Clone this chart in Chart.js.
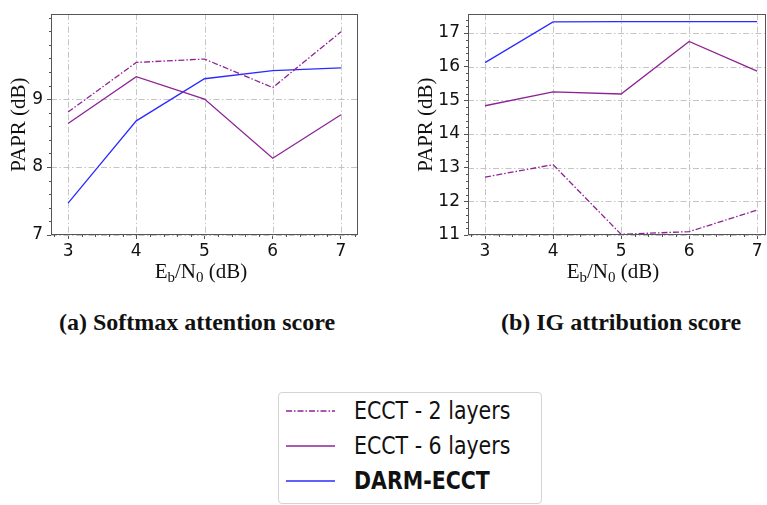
<!DOCTYPE html>
<html>
<head>
<meta charset="utf-8">
<script src="https://cdn.jsdelivr.net/npm/chart.js@4/dist/chart.umd.min.js"></script>
<style>
  html, body { margin: 0; padding: 0; background: #fff; }
  body { width: 767px; height: 505px; overflow: hidden; position: relative; }
  .panel { position: absolute; top: 0; }
  .xt {
    position: absolute; top: 261px; transform: translateX(-50%);
    font-family: "Liberation Serif", serif; font-size: 21px; line-height: 21px;
    color: #111; white-space: nowrap;
  }
  .xt sub { font-size: 15px; vertical-align: -4px; line-height: 0; }
  .cap {
    position: absolute; top: 310px; transform: translateX(-50%);
    font-family: "Liberation Serif", serif; font-weight: bold; font-size: 24px;
    line-height: 24px; color: #111; white-space: nowrap;
  }
  #legend {
    position: absolute; left: 278px; top: 392px; width: 264px; height: 112px;
    border: 1px solid #d4d4d4; border-radius: 4px; box-sizing: border-box;
    font-family: "DejaVu Sans", sans-serif; font-size: 24px; color: #111;
  }
  .row { position: absolute; left: 0; height: 24px; line-height: 24px; white-space: nowrap; }
  .row svg { position: absolute; left: 7px; top: 0; }
  .row span { position: absolute; left: 75px; top: 0; transform: scaleX(0.855); transform-origin: 0 50%; }
</style>
</head>
<body>
<div class="panel" style="left:0"><canvas id="chartA" width="370" height="260"></canvas></div>
<div class="panel" style="left:380px"><canvas id="chartB" width="387" height="260"></canvas></div>

<div class="xt" style="left:201px">E<sub>b</sub>/N<sub>0</sub> (dB)</div>
<div class="xt" style="left:613px">E<sub>b</sub>/N<sub>0</sub> (dB)</div>

<div class="cap" style="left:197px">(a) Softmax attention score</div>
<div class="cap" style="left:621px">(b) IG attribution score</div>

<div id="legend"></div>

<script>
// Eb/N0 points (dB)
const ebn0 = [3, 4, 5, 6, 7];
const xTicks = [3, 4, 5, 6, 7];

// (a) PAPR with softmax attention score
const softmaxEcct2 = [8.81, 9.54, 9.59, 9.17, 9.99];
const softmaxEcct6 = [8.64, 9.33, 9.00, 8.13, 8.77];
const softmaxDarm  = [7.47, 8.68, 9.30, 9.42, 9.46];
const softmaxYTicks = [7, 8, 9];

// (b) PAPR with IG attribution score
const igEcct2 = [12.72, 13.09, 11.02, 11.10, 11.74];
const igEcct6 = [14.84, 15.25, 15.19, 16.75, 15.87];
const igDarm  = [16.12, 17.33, 17.34, 17.34, 17.34];
const igYTicks = [11, 12, 13, 14, 15, 16, 17];

const seriesNames = ['ECCT - 2 layers', 'ECCT - 6 layers', 'DARM-ECCT'];

const PURPLE = '#8e2394';
const BLUE = '#2b2bff';
const AXIS = '#555';
const GRID = '#c4c4c4';
const GRID_DASH = [6, 2.5, 1.5, 2.5];
const ECCT2_DASH = [6, 2, 1.5, 2];
const TICK_FONT = { family: 'DejaVu Sans', size: 17 };

function pts(ys) { return ebn0.map((x, i) => ({ x: x, y: ys[i] })); }

// dash-dot grid, full frame and minor ticks (0.2 steps)
const framePlugin = {
  id: 'frame',
  beforeDatasetsDraw(chart) {
    const { ctx, chartArea: a, scales: { x, y } } = chart;
    ctx.save();
    ctx.strokeStyle = GRID; ctx.lineWidth = 1; ctx.setLineDash(GRID_DASH);
    ctx.beginPath();
    x.ticks.forEach(t => { const p = Math.round(x.getPixelForValue(t.value)) + 0.5; ctx.moveTo(p, a.top); ctx.lineTo(p, a.bottom); });
    y.ticks.forEach(t => { const p = Math.round(y.getPixelForValue(t.value)) + 0.5; ctx.moveTo(a.left, p); ctx.lineTo(a.right, p); });
    ctx.stroke();
    ctx.restore();
  },
  afterDraw(chart) {
    const { ctx, chartArea: a, scales: { x, y } } = chart;
    ctx.save();
    ctx.strokeStyle = AXIS; ctx.lineWidth = 1;
    const L = Math.round(a.left) + 0.5, T = Math.round(a.top) + 0.5;
    const R = Math.round(a.right) - 0.5, B = Math.round(a.bottom) - 0.5;
    ctx.strokeRect(L, T, R - L, B - T);
    ctx.beginPath();
    const xMaj = x.ticks.map(t => t.value), yMaj = y.ticks.map(t => t.value);
    const isMaj = (arr, v) => arr.some(m => Math.abs(m - v) < 1e-6);
    for (let k = Math.ceil(x.min / 0.2 - 1e-9); k * 0.2 <= x.max + 1e-9; k++) {
      const v = k * 0.2; if (isMaj(xMaj, v)) continue;
      const p = Math.round(x.getPixelForValue(v)) + 0.5;
      ctx.moveTo(p, B); ctx.lineTo(p, B + 2.5);
    }
    for (let k = Math.ceil(y.min / 0.2 - 1e-9); k * 0.2 <= y.max + 1e-9; k++) {
      const v = k * 0.2; if (isMaj(yMaj, v)) continue;
      const p = Math.round(y.getPixelForValue(v)) + 0.5;
      ctx.moveTo(L, p); ctx.lineTo(L - 2.5, p);
    }
    ctx.stroke();
    ctx.restore();
  }
};

function makeChart(id, e2, e6, darm, yTicks, yMin, yMax, xMax, padLeft, yWidth, padRight) {
  return new Chart(document.getElementById(id), {
    type: 'line',
    data: {
      datasets: [
        { label: seriesNames[0], data: pts(e2), borderColor: PURPLE, borderWidth: 1.3, borderDash: ECCT2_DASH },
        { label: seriesNames[1], data: pts(e6), borderColor: PURPLE, borderWidth: 1.3 },
        { label: seriesNames[2], data: pts(darm), borderColor: BLUE, borderWidth: 1.3 }
      ]
    },
    options: {
      responsive: false,
      animation: false,
      devicePixelRatio: 1,
      layout: { padding: { left: padLeft, top: 6, right: padRight, bottom: 0 } },
      elements: { point: { radius: 0 }, line: { tension: 0, fill: false } },
      plugins: { legend: { display: false }, tooltip: { enabled: false } },
      scales: {
        x: {
          type: 'linear', min: 2.75, max: xMax,
          afterBuildTicks: s => { s.ticks = xTicks.map(v => ({ value: v })); },
          afterFit: s => { s.height = 25; },
          ticks: { font: TICK_FONT, color: '#111', padding: 2, maxRotation: 0 },
          grid: { drawOnChartArea: false, tickLength: 4, tickColor: AXIS },
          border: { display: false }
        },
        y: {
          type: 'linear', min: yMin, max: yMax,
          afterBuildTicks: s => { s.ticks = yTicks.map(v => ({ value: v })); },
          afterFit: s => { s.width = yWidth; },
          ticks: { font: TICK_FONT, color: '#111', padding: 4 },
          grid: { drawOnChartArea: false, tickLength: 4, tickColor: AXIS },
          border: { display: false },
          title: {
            display: true, text: 'PAPR (dB)', color: '#111',
            font: { family: 'Liberation Serif', size: 21 }, padding: { top: 4, bottom: 4 }
          }
        }
      }
    },
    plugins: [framePlugin]
  });
}

makeChart('chartA', softmaxEcct2, softmaxEcct6, softmaxDarm, softmaxYTicks, 7, 10.25, 7.25, 3, 48, 12);
makeChart('chartB', igEcct2, igEcct6, igDarm, igYTicks, 11, 17.56, 7.13, 30, 58, 1);

// shared legend
const legend = document.getElementById('legend');
const rowTops = [5.5, 41, 75.7];
const styles = [
  { color: PURPLE, dash: ECCT2_DASH.join(' '), bold: false },
  { color: PURPLE, dash: '', bold: false },
  { color: BLUE, dash: '', bold: true }
];
seriesNames.forEach((name, i) => {
  const row = document.createElement('div');
  row.className = 'row';
  row.style.top = rowTops[i] + 'px';
  const st = styles[i];
  row.innerHTML =
    '<svg width="50" height="24"><line x1="0" y1="12" x2="49" y2="12" stroke="' + st.color +
    '" stroke-width="1.4"' + (st.dash ? ' stroke-dasharray="' + st.dash + '"' : '') + '/></svg>' +
    '<span style="font-weight:' + (st.bold ? 'bold' : 'normal') + '">' + name + '</span>';
  legend.appendChild(row);
});
</script>
</body>
</html>
